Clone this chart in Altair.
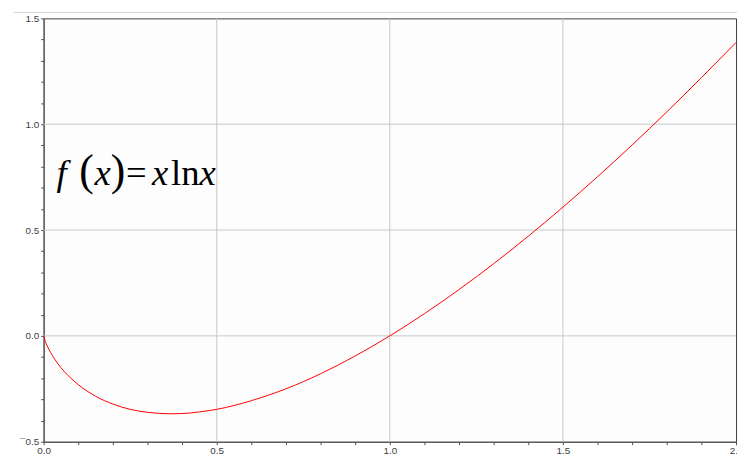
import altair as alt
import pandas as pd

# Curve values: f(x) = x ln x
xs = [0.0, 0.005, 0.01, 0.02, 0.03, 0.05, 0.07, 0.1, 0.15, 0.2, 0.25, 0.3, 0.368, 0.4, 0.45,
      0.5, 0.6, 0.7, 0.8, 0.9, 1.0, 1.1, 1.2, 1.3, 1.4, 1.5, 1.6, 1.7, 1.8, 1.9, 2.0]
ys = [0.0, -0.026, -0.046, -0.078, -0.105, -0.150, -0.186, -0.230, -0.285, -0.322, -0.347,
      -0.361, -0.368, -0.367, -0.359, -0.347, -0.306, -0.250, -0.179, -0.095, 0.0, 0.105,
      0.219, 0.341, 0.471, 0.608, 0.752, 0.902, 1.058, 1.220, 1.386]

x_ticks = [round(i * 0.1, 1) for i in range(0, 21)]
y_ticks = [round(-0.5 + i * 0.1, 1) for i in range(0, 21)]
x_grid = [0.5, 1.0, 1.5]
y_grid = [0.0, 0.5, 1.0]

# formula pieces
f_text = ["f", "(", "x", ")", "=", "x", "ln", "x"]
f_x = [0.037, 0.103, 0.147, 0.194, 0.238, 0.313, 0.368, 0.450]
f_y = [0.712] * 8
f_size = [37, 44, 37, 44, 37, 37, 37, 37]
f_italic = [True, False, True, False, False, True, False, True]

curve = pd.DataFrame({"x": xs, "y": ys})
formula = pd.DataFrame({"x": f_x, "y": f_y, "t": f_text, "s": f_size, "it": f_italic})

xscale = alt.Scale(domain=[0, 2], nice=False, zero=False)
yscale = alt.Scale(domain=[-0.5, 1.5], nice=False, zero=False)

label_y = ("abs(round(datum.value*10)) % 5 == 0 ? (datum.value < 0 ? '\u00af' + format(-datum.value, '.1f') "
           ": format(abs(datum.value), '.1f')) : ''")
label_x = "abs(round(datum.value*10)) % 5 == 0 ? format(datum.value, '.1f') : ''"

xaxis = alt.Axis(values=x_ticks, labelExpr=label_x, grid=False, title=None, tickSize=3,
                 labelFlush=False, labelOverlap=False, labelFont="Liberation Sans",
                 labelFontSize=10, labelColor="#404040", domainColor="#505050",
                 tickColor="#505050", labelPadding=1)
yaxis = alt.Axis(values=y_ticks, labelExpr=label_y, grid=False, title=None, tickSize=3,
                 labelFlush=False, labelOverlap=False, labelFont="Liberation Sans",
                 labelFontSize=10, labelColor="#404040", domainColor="#505050",
                 tickColor="#505050", labelPadding=2)

X = lambda: alt.X("x:Q", scale=xscale, axis=xaxis)
Y = lambda: alt.Y("y:Q", scale=yscale, axis=yaxis)

vgrid = alt.Chart(pd.DataFrame({"x": x_grid})).mark_rule(color="#c8c8c8", strokeWidth=1).encode(x=X())
hgrid = alt.Chart(pd.DataFrame({"y": y_grid})).mark_rule(color="#c8c8c8", strokeWidth=1).encode(y=Y())

line = alt.Chart(curve).mark_line(color="#ff0000", strokeWidth=1, interpolate="monotone").encode(
    x=X(), y=Y())

base_txt = alt.Chart(formula)
txt_it = base_txt.transform_filter("datum.it").mark_text(
    font="Liberation Serif", fontStyle="italic", align="left", baseline="alphabetic", color="#000000"
).encode(x=X(), y=Y(), text="t:N", size=alt.Size("s:Q", scale=None, legend=None))
txt_up = base_txt.transform_filter("!datum.it").mark_text(
    font="Liberation Serif", align="left", baseline="alphabetic", color="#000000"
).encode(x=X(), y=Y(), text="t:N", size=alt.Size("s:Q", scale=None, legend=None))

outer = alt.Chart(pd.DataFrame({"a": [0]})).mark_rule(color="#d6d6ce", strokeWidth=1).encode(
    x=alt.value(-30), x2=alt.value(701), y=alt.value(-6))

chart = alt.layer(vgrid, hgrid, line, txt_it, txt_up, outer).properties(
    width=700, height=428,
    autosize=alt.AutoSizeParams(type="none"),
    padding={"left": 36, "top": 8, "right": 1, "bottom": 17},
    background="white",
).configure_view(stroke="#404040", strokeWidth=1, fill="#fdfdfd"
).configure_axis(labelOverlap=False, labelBound=False, labelFlush=False)

chart.save("out.html", embed_options={"renderer": "svg", "actions": False})
